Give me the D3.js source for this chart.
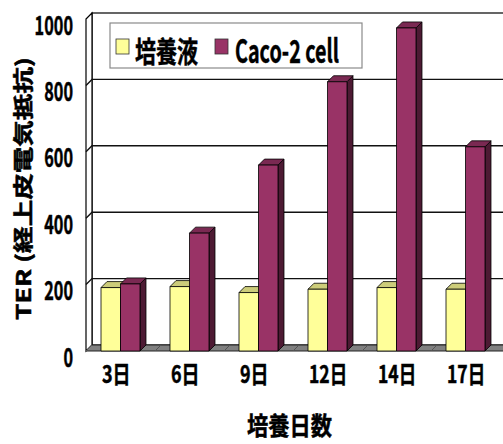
<!DOCTYPE html>
<html>
<head>
<meta charset="utf-8">
<script src="https://cdn.jsdelivr.net/npm/d3@7"></script>
<style>
  html, body { margin: 0; padding: 0; background: #fff; }
  svg text { font-family: "Noto Sans CJK JP", "Noto Sans", sans-serif; font-weight: 700; fill: #000; stroke: #000; stroke-width: 0.5px; }
</style>
</head>
<body>
<svg id="chart" width="503" height="444"></svg>
<script>
// data
const days = ['3日', '6日', '9日', '12日', '14日', '17日'];
const seriesNames = ['培養液', 'Caco-2 cell'];
const medium = [191, 194, 176, 186, 191, 186];
const caco2 = [202, 355, 560, 811, 973, 615];
const yTicks = [0, 200, 400, 600, 800, 1000];
const yTitle = 'TER (経上皮電気抵抗)';
const xTitle = '培養日数';

const W = 503, H = 444;
const D = { dx: 6, dy: -6 };           // 3d depth offset
const left = 86, right = 500;
const colors = {
  '培養液': { front: '#ffff99', top: '#cccc7a', side: '#999973' },
  'Caco-2 cell': { front: '#993366', top: '#7a2952', side: '#4d1a33' }
};

const svg = d3.select('#chart');
const y = d3.scaleLinear().domain([0, 1000]).range([351, 19]);
const x0 = d3.scaleBand().domain(days).range([left, right]);
const x1 = d3.scaleBand().domain(seriesNames).range([0, x0.bandwidth()]).paddingOuter(0.77);

// rough text width for the condensed gothic look
const textW = (s, digit, cjk) => Array.from(s).reduce((a, c) => a + (/[0-9]/.test(c) ? digit : cjk), 0);

// back wall
svg.append('rect')
  .attr('x', left + D.dx).attr('y', y(1000) + D.dy)
  .attr('width', W - left).attr('height', y(0) - y(1000))
  .attr('fill', '#fff').attr('stroke', '#000').attr('stroke-width', 1.2);

// left side wall
svg.append('polygon')
  .attr('points', [[left, y(1000)], [left + D.dx, y(1000) + D.dy], [left + D.dx, y(0) + D.dy], [left, y(0)]].join(' '))
  .attr('fill', '#fff').attr('stroke', '#000').attr('stroke-width', 1.2);

// gridlines (back wall + side wall)
const grid = svg.append('g').attr('stroke', '#111').attr('stroke-width', 1.4).attr('fill', 'none');
yTicks.filter(v => v > 0 && v < 1000).forEach(v => {
  grid.append('path')
    .attr('d', `M${left},${y(v)}L${left + D.dx},${y(v) + D.dy}H${W + 5}`);
});

// floor
svg.append('polygon')
  .attr('points', [[left, y(0)], [left + D.dx, y(0) + D.dy], [W + 10, y(0) + D.dy], [W + 10, y(0)]].join(' '))
  .attr('fill', '#808080').attr('stroke', '#222').attr('stroke-width', 1);
svg.append('g').selectAll('line').data(days).join('line')
  .attr('x1', d => x0(d)).attr('y1', y(0))
  .attr('x2', d => x0(d) + D.dx).attr('y2', y(0) + D.dy)
  .attr('stroke', '#555').attr('stroke-width', 1);

// y axis labels
const yAxis = svg.append('g').attr('transform', 'translate(73,0)')
  .call(d3.axisLeft(y).tickValues(yTicks).tickSize(0).tickPadding(0).tickFormat(d3.format('d')));
yAxis.select('.domain').remove();
yAxis.selectAll('text')
  .attr('x', 0).attr('dy', 15)
  .style('font-size', '26px')
  .attr('textLength', d => textW(String(d), 9.6, 19))
  .attr('lengthAdjust', 'spacingAndGlyphs');

// x axis labels
const xAxis = svg.append('g').attr('transform', 'translate(0,383)')
  .call(d3.axisBottom(x0).tickSize(0).tickPadding(0));
xAxis.select('.domain').remove();
xAxis.selectAll('text')
  .attr('x', x1(seriesNames[0]) - x0.bandwidth() / 2 + 1).attr('y', 0).attr('dy', 0)
  .attr('text-anchor', 'start')
  .style('font-size', '24px')
  .attr('textLength', d => textW(d, 9.6, 19))
  .attr('lengthAdjust', 'spacingAndGlyphs');

// bars
const rows = days.map((d, i) => ({ day: d, values: [medium[i], caco2[i]] }));
const groups = svg.append('g').selectAll('g').data(rows).join('g')
  .attr('transform', d => `translate(${x0(d.day)},0)`);

groups.each(function (row) {
  const g = d3.select(this);
  seriesNames.forEach((s, k) => {
    const v = row.values[k];
    const bx = x1(s), bw = x1.bandwidth();
    const top = y(v), base = y(0);
    const c = colors[s];
    const bar = g.append('g').attr('stroke', '#000').attr('stroke-width', 0.8).attr('stroke-linejoin', 'round');
    // side face
    bar.append('polygon')
      .attr('points', [[bx + bw, top], [bx + bw + D.dx, top + D.dy], [bx + bw + D.dx, base + D.dy], [bx + bw, base]].join(' '))
      .attr('fill', c.side);
    // top face
    bar.append('polygon')
      .attr('points', [[bx, top], [bx + D.dx, top + D.dy], [bx + bw + D.dx, top + D.dy], [bx + bw, top]].join(' '))
      .attr('fill', c.top);
    // front face
    bar.append('rect')
      .attr('x', bx).attr('y', top).attr('width', bw).attr('height', base - top)
      .attr('fill', c.front);
  });
});

// legend
const legend = svg.append('g');
legend.append('rect')
  .attr('x', 110).attr('y', 23).attr('width', 252).attr('height', 45)
  .attr('fill', '#fff').attr('stroke', '#8a8a8a').attr('stroke-width', 1.2);
const legendItems = [
  { name: seriesNames[0], sx: 116, tx: 135, tw: 63 },
  { name: seriesNames[1], sx: 215, tx: 235, tw: 104 }
];
legendItems.forEach(it => {
  legend.append('rect')
    .attr('x', it.sx).attr('y', 39).attr('width', 13).attr('height', 15)
    .attr('fill', colors[it.name].front).attr('stroke', '#333').attr('stroke-width', 0.8);
  legend.append('text')
    .attr('x', it.tx).attr('y', 63)
    .style('font-size', it.name === 'Caco-2 cell' ? '32px' : '29px')
    .attr('textLength', it.tw).attr('lengthAdjust', 'spacingAndGlyphs')
    .text(it.name);
});

// axis titles
svg.append('text')
  .attr('transform', 'translate(31,320) rotate(-90)')
  .attr('x', 0).attr('y', 0)
  .style('font-size', '20px')
  .attr('textLength', 263).attr('lengthAdjust', 'spacingAndGlyphs')
  .text(yTitle);

svg.append('text')
  .attr('x', 247).attr('y', 435)
  .style('font-size', '25px')
  .attr('textLength', 85).attr('lengthAdjust', 'spacingAndGlyphs')
  .text(xTitle);
</script>
</body>
</html>
